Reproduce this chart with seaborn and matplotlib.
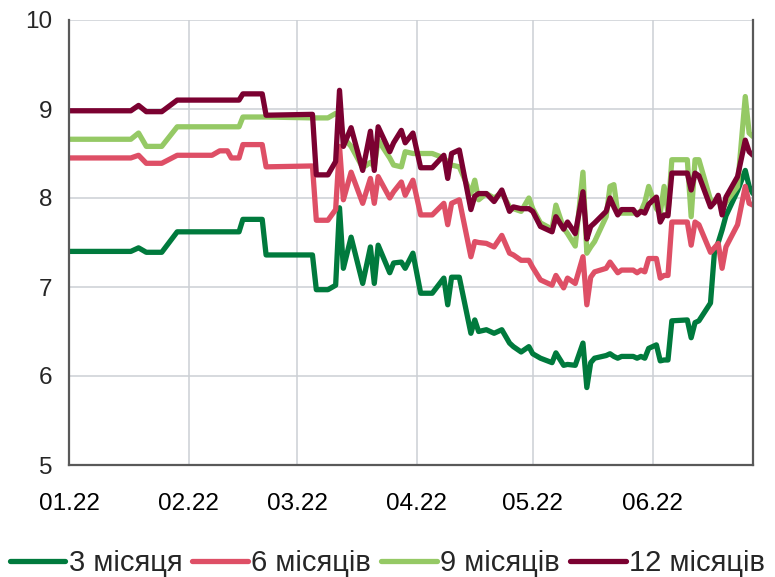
import matplotlib
matplotlib.use("Agg")
import matplotlib.pyplot as plt
import matplotlib.dates as mdates
import pandas as pd
import seaborn as sns

# Yields of government bonds by maturity, %
dates = [
    "2022-01-01", "2022-01-17", "2022-01-19", "2022-01-21", "2022-01-25", "2022-01-29",
    "2022-02-07", "2022-02-09", "2022-02-11", "2022-02-12", "2022-02-14", "2022-02-15",
    "2022-02-20", "2022-02-21", "2022-03-05", "2022-03-06", "2022-03-09", "2022-03-11",
    "2022-03-12", "2022-03-13", "2022-03-15", "2022-03-18", "2022-03-20", "2022-03-21",
    "2022-03-22", "2022-03-25", "2022-03-26", "2022-03-28", "2022-03-29", "2022-03-31",
    "2022-04-02", "2022-04-05", "2022-04-08", "2022-04-09", "2022-04-10", "2022-04-12",
    "2022-04-15", "2022-04-16", "2022-04-17", "2022-04-19", "2022-04-21", "2022-04-23",
    "2022-04-25", "2022-04-26", "2022-04-28", "2022-04-30", "2022-05-01", "2022-05-03",
    "2022-05-06", "2022-05-07", "2022-05-09", "2022-05-10", "2022-05-12", "2022-05-14",
    "2022-05-15", "2022-05-16", "2022-05-17", "2022-05-20", "2022-05-21", "2022-05-22",
    "2022-05-23", "2022-05-24", "2022-05-27", "2022-05-28", "2022-05-29", "2022-05-30",
    "2022-05-31", "2022-06-02", "2022-06-03", "2022-06-04", "2022-06-05", "2022-06-06",
    "2022-06-10", "2022-06-11", "2022-06-12", "2022-06-13", "2022-06-16", "2022-06-17",
    "2022-06-18", "2022-06-19", "2022-06-20", "2022-06-23", "2022-06-25", "2022-06-26",
    "2022-06-27",
]

m3 = [
    7.40, 7.40, 7.44, 7.39, 7.39, 7.62,
    7.62, 7.62, 7.62, 7.62, 7.62, 7.76,
    7.76, 7.36, 7.36, 6.97, 6.97, 7.02,
    7.89, 7.21, 7.56, 7.04, 7.45, 7.04,
    7.47, 7.16, 7.27, 7.28, 7.21, 7.38,
    6.93, 6.93, 7.10, 6.80, 7.11, 7.11,
    6.48, 6.63, 6.50, 6.52, 6.48, 6.52,
    6.37, 6.33, 6.27, 6.33, 6.25, 6.20,
    6.15, 6.26, 6.12, 6.13, 6.12, 6.37,
    5.87, 6.15, 6.20, 6.23, 6.25, 6.22,
    6.20, 6.22, 6.22, 6.20, 6.22, 6.20,
    6.31, 6.35, 6.17, 6.18, 6.18, 6.62,
    6.63, 6.43, 6.60, 6.62, 6.82, 7.38,
    7.50, 7.64, 7.80, 8.08, 8.31, 8.13,
    8.05,
]

m6 = [
    8.45, 8.45, 8.48, 8.39, 8.39, 8.48,
    8.48, 8.53, 8.53, 8.45, 8.45, 8.60,
    8.60, 8.35, 8.36, 7.75, 7.75, 7.87,
    8.58, 7.98, 8.29, 7.94, 8.22, 7.94,
    8.24, 8.00, 8.07, 8.18, 8.03, 8.20,
    7.81, 7.81, 7.94, 7.70, 7.94, 7.98,
    7.34, 7.51, 7.50, 7.49, 7.45, 7.58,
    7.38, 7.36, 7.30, 7.30, 7.22, 7.08,
    7.02, 7.13, 6.99, 7.10, 7.04, 7.34,
    6.80, 7.11, 7.17, 7.21, 7.28, 7.22,
    7.16, 7.19, 7.19, 7.16, 7.19, 7.17,
    7.32, 7.32, 7.10, 7.13, 7.13, 7.73,
    7.73, 7.47, 7.73, 7.70, 7.39, 7.44,
    7.49, 7.21, 7.45, 7.70, 8.13, 7.94,
    7.92,
]

m9 = [
    8.66, 8.66, 8.73, 8.58, 8.58, 8.80,
    8.80, 8.80, 8.80, 8.80, 8.80, 8.91,
    8.91, 8.91, 8.90, 8.90, 8.90, 8.95,
    8.92, 8.68, 8.58, 8.34, 8.40, 8.35,
    8.65, 8.45, 8.37, 8.35, 8.52, 8.50,
    8.50, 8.50, 8.45, 8.40, 8.37, 8.35,
    8.05, 8.20, 7.98, 8.05, 8.00, 8.06,
    7.90, 7.88, 7.85, 8.00, 7.88, 7.72,
    7.65, 7.92, 7.66, 7.60, 7.46, 8.29,
    7.38, 7.45, 7.51, 7.79, 8.13, 8.15,
    7.83, 7.83, 7.83, 7.83, 7.85, 7.95,
    8.13, 7.88, 7.83, 8.13, 7.83, 8.43,
    8.43, 7.79, 8.43, 8.43, 7.98, 7.95,
    8.00, 7.87, 7.95, 8.13, 9.14, 8.73,
    8.69,
]

m12 = [
    8.98, 8.98, 9.04, 8.97, 8.97, 9.10,
    9.10, 9.10, 9.10, 9.10, 9.10, 9.17,
    9.17, 8.93, 8.94, 8.26, 8.26, 8.41,
    9.21, 8.58, 8.79, 8.31, 8.75, 8.31,
    8.80, 8.52, 8.62, 8.76, 8.62, 8.73,
    8.34, 8.34, 8.48, 8.22, 8.50, 8.54,
    7.87, 8.02, 8.05, 8.05, 7.96, 8.09,
    7.85, 7.90, 7.88, 7.88, 7.85, 7.68,
    7.62, 7.79, 7.65, 7.73, 7.60, 8.07,
    7.54, 7.68, 7.72, 7.85, 8.00, 7.90,
    7.81, 7.87, 7.87, 7.81, 7.85, 7.83,
    7.93, 8.01, 7.73, 7.81, 7.80, 8.28,
    8.28, 8.09, 8.28, 8.25, 7.90, 7.95,
    8.03, 7.81, 8.01, 8.24, 8.65, 8.52,
    8.48,
]

series_names = ["3 місяця", "6 місяців", "9 місяців", "12 місяців"]
colors = ["#007A3D", "#DE4F66", "#95C965", "#7B0131"]
month_ticks = ["2022-01-01", "2022-02-01", "2022-03-01", "2022-04-01", "2022-05-01", "2022-06-01"]
y_ticks = [5, 6, 7, 8, 9, 10]

wide = pd.DataFrame({"date": pd.to_datetime(dates),
                     series_names[0]: m3, series_names[1]: m6,
                     series_names[2]: m9, series_names[3]: m12})
df = wide.melt(id_vars="date", var_name="series", value_name="value")

sns.set_style("white")
plt.rcParams["font.family"] = ["Liberation Sans", "DejaVu Sans"]

fig = plt.figure(figsize=(7.75, 5.77), dpi=100)
ax = fig.add_axes([69 / 775, 1 - 465 / 577, (753 - 69) / 775, (465 - 20) / 577])

sns.lineplot(data=df, x="date", y="value", hue="series", hue_order=series_names,
             palette=colors, linewidth=3.8, ax=ax, sort=True, estimator=None)

ax.set_xlim(pd.Timestamp("2022-01-01"), pd.Timestamp("2022-06-27"))
ax.set_ylim(5, 10)
ax.set_xticks(pd.to_datetime(month_ticks))
ax.xaxis.set_major_formatter(mdates.DateFormatter("%m.%y"))
ax.set_yticks(y_ticks)
ax.set_xlabel("")
ax.set_ylabel("")

ax.grid(True, color="#CCD0D4", linewidth=1.1)
ax.set_axisbelow(True)
for side in ("left", "right", "bottom"):
    ax.spines[side].set_color("#595959")
    ax.spines[side].set_linewidth(1.6)
ax.spines["top"].set_visible(False)

ax.tick_params(axis="x", direction="in", length=4, colors="#9a9a9a",
               labelcolor="black", labelsize=17.5, pad=20)
ax.tick_params(axis="y", length=0, labelsize=17.5, pad=12)

handles, labels = ax.get_legend_handles_labels()
ax.get_legend().remove()
fig.legend(handles, labels, loc="center", bbox_to_anchor=(0.5, 1 - 563 / 577),
           ncol=4, frameon=False, fontsize=21, handlelength=1.9,
           handletextpad=0.12, columnspacing=0.35, borderaxespad=0)

fig.savefig("out.png", dpi=100)
